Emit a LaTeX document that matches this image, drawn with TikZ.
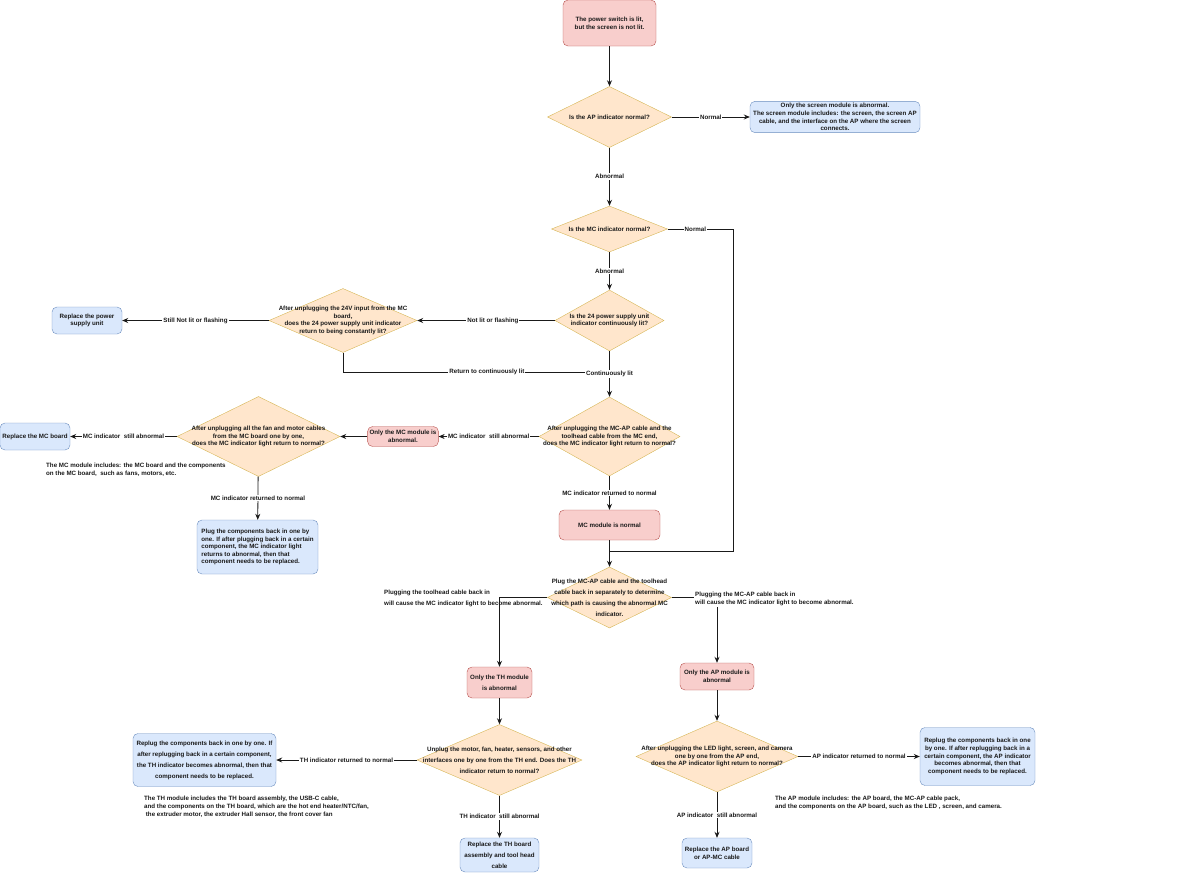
\documentclass[tikz,border=0pt]{standalone}
\usepackage{fontspec}
\setmainfont{Liberation Sans}
\usetikzlibrary{arrows.meta,positioning,shapes.geometric}
\definecolor{faultred}{HTML}{F8CECC}
\definecolor{faultline}{HTML}{B85450}
\definecolor{askorange}{HTML}{FFE6CC}
\definecolor{askline}{HTML}{D6B656}
\definecolor{actionblue}{HTML}{DAE8FC}
\definecolor{actionline}{HTML}{6C8EBF}
\definecolor{inkgray}{HTML}{1A1A1A}

\begin{document}
\begin{tikzpicture}[
  x=1pt,y=-1pt,
  box/.style={draw,rounded corners=5pt,align=center,inner sep=2pt,text=inkgray,
    font=\fontsize{6.2}{7.6}\selectfont\bfseries},
  fault/.style={box,fill=faultred,draw=faultline},
  action/.style={box,fill=actionblue,draw=actionline},
  decision/.style={diamond,draw=askline,fill=askorange,inner sep=0pt},
  qtext/.style={align=center,inner sep=0pt,text=inkgray,
    font=\fontsize{6.2}{7.6}\selectfont\bfseries},
  loose/.style={font=\fontsize{6.2}{11}\selectfont\bfseries},
  elabel/.style={fill=white,inner sep=1pt,text=inkgray,
    font=\fontsize{6.2}{7.6}\selectfont\bfseries},
  note/.style={anchor=west,align=left,inner sep=1pt,text=inkgray,
    font=\fontsize{6.2}{8}\selectfont\bfseries},
  flow/.style={-{Stealth[length=6pt,width=5pt]},line width=0.8pt,draw=inkgray},
  link/.style={line width=0.8pt,draw=inkgray}
]
\useasboundingbox (0,0) rectangle (1200,873);
% main column: AP / MC / power checks
\node[fault,minimum width=93pt,minimum height=46pt] (start) at (609.5,23)
  {The power switch is lit,\\but the screen is not lit.};
\node[decision,minimum width=124pt,minimum height=61pt] (q1) at (609.5,117) {};
\node[qtext] (q1text) at (q1) {Is the AP indicator normal?};
\node[action,minimum width=170pt,minimum height=31pt] (screen) at (835,117)
  {Only the screen module is abnormal.\\The screen module includes: the screen, the screen AP\\cable, and the interface on the AP where the screen\\connects.};
\node[decision,minimum width=116pt,minimum height=46pt] (q2) at (609.5,229) {};
\node[qtext] (q2text) at (q2) {Is the MC indicator normal?};
\node[decision,minimum width=109pt,minimum height=61pt] (q3) at (609.5,320.5) {};
\node[qtext] (q3text) at (q3) {Is the 24 power supply unit\\indicator continuously lit?};
\node[decision,minimum width=148pt,minimum height=64pt] (q4) at (343,320.5) {};
\node[qtext] (q4text) at (q4)
  {After unplugging the 24V input from the MC\\board,\\does the 24 power supply unit indicator\\return to being constantly lit?};
\node[action,minimum width=70pt,minimum height=27pt] (psu) at (87,320.5)
  {Replace the power\\supply unit};
\coordinate (psjoin) at (609.5,372);
\draw[flow] (start) -- (q1);
\draw[flow] (q1) -- node[elabel]{Normal} (screen);
\draw[flow] (q1) -- node[elabel]{Abnormal} (q2);
\draw[flow] (q2) -- node[elabel]{Abnormal} (q3);
\draw[flow] (q3) -- node[elabel,pos=0.45]{Not lit or flashing} (q4);
\draw[flow] (q4) -- node[elabel]{Still Not lit or flashing} (psu);
\draw[link] (q4.south) |- node[elabel,pos=0.77]{Return to continuously lit} (psjoin);

% MC module branch
\node[decision,minimum width=141pt,minimum height=79pt] (q5) at (609.5,436.5) {};
\node[qtext] (q5text) at (q5)
  {After unplugging the MC-AP cable and the\\toolhead cable from the MC end,\\does the MC indicator light return to normal?};
\node[fault,minimum width=70pt,minimum height=20pt] (mconly) at (403,436.5)
  {Only the MC module is\\abnormal.};
\node[decision,minimum width=163pt,minimum height=80pt] (q6) at (258.5,436.5) {};
\node[qtext] (q6text) at (q6)
  {After unplugging all the fan and motor cables\\from the MC board one by one,\\does the MC indicator light return to normal?};
\node[action,minimum width=70pt,minimum height=27pt] (mcboard) at (35,436.5)
  {Replace the MC board};
\node[note] (mcnote) at (45,469.5)
  {The MC module includes: the MC board and the components\\on the MC board,\ \ such as fans, motors, etc.};
\node[action,minimum width=121pt,minimum height=54pt,align=left] (mcplug) at (257.5,547)
  {Plug the components back in one by\\one. If after plugging back in a certain\\component, the MC indicator light\\returns to abnormal, then that\\component needs to be replaced.};
\node[fault,minimum width=101pt,minimum height=30pt] (mcok) at (609.5,525)
  {MC module is normal};
\coordinate (mcjoin) at (609.5,551);
\draw[flow] (q3) -- node[elabel]{Continuously lit} (q5);
\draw[flow] (q5) -- node[elabel]{MC indicator\ \ still abnormal} (mconly);
\draw[flow] (mconly) -- (q6);
\draw[flow] (q6) -- node[elabel]{MC indicator\ \ still abnormal} (mcboard);
\draw[flow] (q6) -- node[elabel]{MC indicator returned to normal} (mcplug);
\draw[flow] (q5) -- node[elabel]{MC indicator returned to normal} (mcok);
\draw[link] (q2.east) -- node[elabel,pos=0.42]{Normal} ++(66,0) |- (mcjoin);

% split into TH and AP paths
\node[decision,minimum width=124pt,minimum height=61pt] (q7) at (609.5,597.5) {};
\node[qtext,loose] (q7text) at (q7)
  {Plug the MC-AP cable and the toolhead\\cable back in separately to determine\\which path is causing the abnormal MC\\indicator.};
\node[fault,loose,minimum width=65pt,minimum height=31pt] (thonly) at (499.5,682.5)
  {Only the TH module\\is abnormal};
\node[fault,minimum width=74pt,minimum height=27pt] (aponly) at (717,676.5)
  {Only the AP module is\\abnormal};
\draw[flow] (mcok) -- (q7);
\draw[flow] (q7.west) -| (thonly);
\draw[flow] (q7.east) -| (aponly);
\node[note,loose] (thpath) at (383,598.5)
  {Plugging the toolhead cable back in\\will cause the MC indicator light to become abnormal.};
\node[note,fill=white] (appath) at (694,599)
  {Plugging the MC-AP cable back in\\will cause the MC indicator light to become abnormal.};

% TH module
\node[decision,minimum width=165pt,minimum height=71pt] (q8) at (499.5,760) {};
\node[qtext,loose] (q8text) at (q8)
  {Unplug the motor, fan, heater, sensors, and other\\interfaces one by one from the TH end. Does the TH\\indicator return to normal?};
\node[action,loose,minimum width=143pt,minimum height=53pt] (threplug) at (204.5,760)
  {Replug the components back in one by one. If\\after replugging back in a certain component,\\the TH indicator becomes abnormal, then that\\component needs to be replaced.};
\node[note] (thnote) at (143,807)
  {The TH module includes the TH board assembly, the USB-C cable,\\and the components on the TH board, which are the hot end heater/NTC/fan,\\\ the extruder motor, the extruder Hall sensor, the front cover fan};
\node[action,loose,minimum width=79pt,minimum height=34pt] (threp) at (499.5,855)
  {Replace the TH board\\assembly and tool head\\cable};
\draw[flow] (thonly) -- (q8);
\draw[flow] (q8) -- node[elabel]{TH indicator returned to normal} (threplug);
\draw[flow] (q8) -- node[elabel]{TH indicator\ \ still abnormal} (threp);

% AP module
\node[decision,minimum width=162pt,minimum height=71pt] (q9) at (717,756.5) {};
\node[qtext] (q9text) at (q9)
  {After unplugging the LED light, screen, and camera\\one by one from the AP end,\\does the AP indicator light return to normal?};
\node[action,minimum width=115pt,minimum height=58pt] (apreplug) at (977.5,756.5)
  {Replug the components back in one\\by one. If after replugging back in a\\certain component, the AP indicator\\becomes abnormal, then that\\component needs to be replaced.};
\node[note] (apnote) at (774,803)
  {The AP module includes: the AP board, the MC-AP cable pack,\\and the components on the AP board, such as the LED , screen, and camera.};
\node[action,minimum width=70pt,minimum height=30pt] (aprep) at (717,853)
  {Replace the AP board\\or AP-MC cable};
\draw[flow] (aponly) -- (q9);
\draw[flow] (q9) -- node[elabel]{AP indicator returned to normal} (apreplug);
\draw[flow] (q9) -- node[elabel]{AP indicator\ \ still abnormal} (aprep);
\end{tikzpicture}
\end{document}
